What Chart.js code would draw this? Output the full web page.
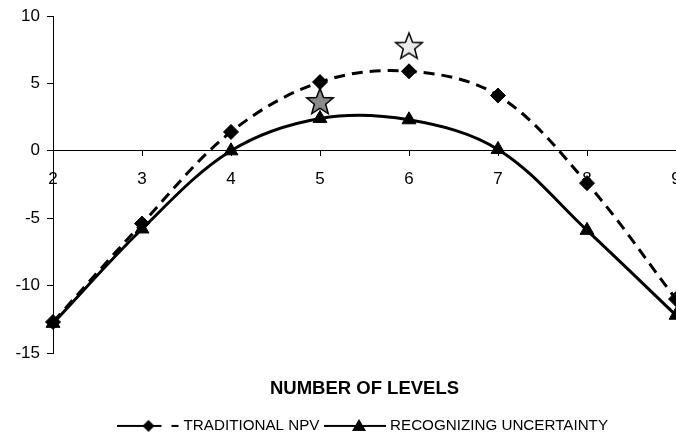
<!DOCTYPE html>
<html><head><meta charset="utf-8">
<script src="https://cdn.jsdelivr.net/npm/chart.js@4.4.0/dist/chart.umd.min.js"></script>
<style>html,body{margin:0;padding:0;background:#fff;}#wrap{width:676px;height:437px;}</style>
</head><body><div id="wrap"><canvas id="c" width="676" height="437"></canvas></div>
<script>
const categories = ['2', '3', '4', '5', '6', '7', '8', '9'];
const traditionalNPV = [-12.7, -5.4, 1.4, 5.1, 5.9, 4.1, -2.4, -11.0];
const recognizingUncertainty = [-12.8, -5.8, 0.0, 2.4, 2.3, 0.1, -5.9, -12.2];
const starLevels = ['5', '6'];
const starValues = [3.7, 7.8];
const yTicks = [-15, -10, -5, 0, 5, 10];
const seriesNames = ['TRADITIONAL NPV', 'RECOGNIZING UNCERTAINTY'];
const xTitle = 'NUMBER OF LEVELS';

const FONT = "'Liberation Sans', Arial, sans-serif";
Chart.defaults.font.family = FONT;
Chart.defaults.color = '#000';

function makeStar(fill) {
  const c = document.createElement('canvas'); c.width = 32; c.height = 32;
  const g = c.getContext('2d');
  const R = 14, r = 6, cx = 16, cy = 17.3;
  g.beginPath();
  for (let i = 0; i < 10; i++) {
    const a = -Math.PI / 2 + i * Math.PI / 5;
    const rr = i % 2 ? r : R;
    g.lineTo(cx + rr * Math.cos(a), cy + rr * Math.sin(a));
  }
  g.closePath();
  g.fillStyle = fill; g.fill();
  g.lineWidth = 1.5; g.strokeStyle = '#000'; g.stroke();
  return c;
}
function makeSample(kind) {
  const W = 62, H = 18, cy = 9;
  const c = document.createElement('canvas'); c.width = W; c.height = H;
  const g = c.getContext('2d');
  g.strokeStyle = '#000'; g.fillStyle = '#000'; g.lineWidth = 2;
  if (kind === 0) {
    g.beginPath(); g.moveTo(0, cy); g.lineTo(44, cy); g.stroke();
    g.beginPath(); g.moveTo(54, cy); g.lineTo(61, cy); g.stroke();
    g.beginPath(); g.moveTo(31, cy - 6); g.lineTo(37, cy); g.lineTo(31, cy + 6); g.lineTo(25, cy); g.closePath(); g.fill();
  } else {
    g.beginPath(); g.moveTo(0, cy); g.lineTo(62, cy); g.stroke();
    g.beginPath(); g.moveTo(35, cy - 7); g.lineTo(42, cy + 5); g.lineTo(28, cy + 5); g.closePath(); g.fill();
  }
  return c;
}
const samples = [makeSample(0), makeSample(1)];
const stars = [makeStar('#8a8a8a'), makeStar('#ececec')];

new Chart(document.getElementById('c'), {
  type: 'line',
  data: {
    labels: categories,
    datasets: [
      {
        label: seriesNames[0], data: traditionalNPV,
        borderColor: '#000', backgroundColor: '#000', borderWidth: 3, borderDash: [11, 7],
        tension: 0.35, pointStyle: 'rectRot', pointRadius: 7.5, pointBorderWidth: 1,
        pointBackgroundColor: '#000', pointBorderColor: '#000', clip: false
      },
      {
        label: seriesNames[1], data: recognizingUncertainty,
        borderColor: '#000', backgroundColor: '#000', borderWidth: 3,
        tension: 0.35, pointStyle: 'triangle', pointRadius: 8, pointBorderWidth: 1,
        pointBackgroundColor: '#000', pointBorderColor: '#000', clip: false
      },
      {
        label: 'stars', data: starLevels.map((x, i) => ({x: x, y: starValues[i]})),
        showLine: false, pointStyle: stars, pointRadius: 14, clip: false
      }
    ]
  },
  options: {
    responsive: false, animation: false, devicePixelRatio: 1,
    layout: {autoPadding: false, padding: {left: 0, right: 0, top: 16, bottom: -6.5}},
    scales: {
      x: {
        type: 'category', position: {y: 0}, offset: false,
        grid: {display: true, drawOnChartArea: false, drawTicks: true, tickLength: 5, color: '#000'},
        border: {display: true, color: '#000', width: 1},
        ticks: {padding: 13, maxRotation: 0, autoSkip: false, color: '#000', font: {size: 17}},
        afterFit: s => { s.paddingLeft = 0; s.paddingRight = 0; }
      },
      y: {
        type: 'linear', position: 'left', min: yTicks[0], max: yTicks[yTicks.length - 1],
        afterBuildTicks: s => { s.ticks = yTicks.map(v => ({value: v})); },
        grid: {display: true, drawOnChartArea: false, drawTicks: true, tickLength: 6, color: '#000'},
        border: {display: true, color: '#000', width: 1},
        ticks: {padding: 7, color: '#000', font: {size: 17}},
        afterFit: s => { s.width = 53; s.paddingTop = 0; s.paddingBottom = 0; }
      }
    },
    plugins: {
      tooltip: {enabled: false},
      title: {
        display: true, text: xTitle, position: 'bottom', fullSize: false, weight: 100,
        color: '#000', font: {size: 18.5, weight: 'bold'}, padding: {top: 24.9, bottom: 10.2}
      },
      legend: {
        display: true, position: 'bottom', fullSize: false, align: 'center',
        labels: {
          usePointStyle: true, pointStyleWidth: 55, padding: 8, color: '#000', font: {size: 15.2},
          generateLabels: () => seriesNames.map((n, i) => ({
            text: n, pointStyle: samples[i], fillStyle: '#000', strokeStyle: '#000',
            lineWidth: 0, hidden: false, datasetIndex: i, fontColor: '#000'
          }))
        }
      }
    }
  }
});
</script></body></html>
